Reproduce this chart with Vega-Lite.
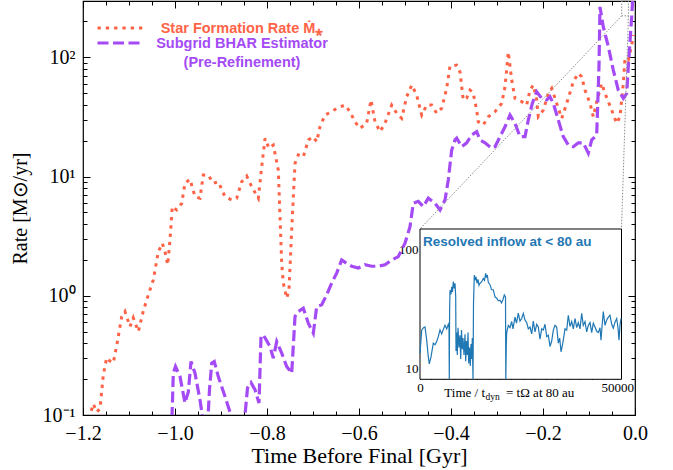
{
  "$schema": "https://vega.github.io/schema/vega-lite/v6.json",
  "width": 552,
  "height": 414,
  "autosize": "none",
  "padding": {"left": 83, "top": 1, "right": 38, "bottom": 55},
  "config": {
    "font": "Liberation Serif",
    "view": {"stroke": "#000", "strokeWidth": 1.2},
    "axis": {
      "grid": false, "domain": false, "ticks": true, "zindex": 1,
      "tickColor": "#000", "tickWidth": 1, "labelColor": "#000", "titleColor": "#000",
      "labelFont": "Liberation Serif", "titleFont": "Liberation Serif", "titleFontWeight": "normal",
      "labelFlush": false, "labelOverlap": false
    }
  },
  "datasets": {
    "main": [
      {"s": "sfr", "t": -1.1935, "v": 0.08}, {"s": "sfr", "t": -1.1848, "v": 0.1}, {"s": "sfr", "t": -1.1776, "v": 0.124},
      {"s": "sfr", "t": -1.1702, "v": 0.106}, {"s": "sfr", "t": -1.163, "v": 0.113}, {"s": "sfr", "t": -1.1559, "v": 0.217},
      {"s": "sfr", "t": -1.1485, "v": 0.302}, {"s": "sfr", "t": -1.1413, "v": 0.284}, {"s": "sfr", "t": -1.1341, "v": 0.274},
      {"s": "sfr", "t": -1.1261, "v": 0.395}, {"s": "sfr", "t": -1.1159, "v": 0.665}, {"s": "sfr", "t": -1.1087, "v": 0.738},
      {"s": "sfr", "t": -1.0978, "v": 0.552}, {"s": "sfr", "t": -1.0907, "v": 0.653}, {"s": "sfr", "t": -1.0798, "v": 0.501},
      {"s": "sfr", "t": -1.0689, "v": 0.746}, {"s": "sfr", "t": -1.058, "v": 1.02}, {"s": "sfr", "t": -1.0472, "v": 1.36},
      {"s": "sfr", "t": -1.0363, "v": 2.34}, {"s": "sfr", "t": -1.0276, "v": 2.76}, {"s": "sfr", "t": -1.0217, "v": 2.34},
      {"s": "sfr", "t": -1.0159, "v": 1.82}, {"s": "sfr", "t": -1.0109, "v": 2.94}, {"s": "sfr", "t": -1.0059, "v": 5.6},
      {"s": "sfr", "t": -0.9963, "v": 5.25}, {"s": "sfr", "t": -0.9854, "v": 5.97}, {"s": "sfr", "t": -0.9783, "v": 8.79},
      {"s": "sfr", "t": -0.9674, "v": 9.49}, {"s": "sfr", "t": -0.9565, "v": 6.79}, {"s": "sfr", "t": -0.9457, "v": 6.58},
      {"s": "sfr", "t": -0.9385, "v": 10.3}, {"s": "sfr", "t": -0.9276, "v": 10.3}, {"s": "sfr", "t": -0.9167, "v": 8.79},
      {"s": "sfr", "t": -0.9059, "v": 9.06}, {"s": "sfr", "t": -0.8913, "v": 6.79}, {"s": "sfr", "t": -0.8767, "v": 6.37},
      {"s": "sfr", "t": -0.8659, "v": 6.58}, {"s": "sfr", "t": -0.855, "v": 9.06}, {"s": "sfr", "t": -0.8441, "v": 10.1},
      {"s": "sfr", "t": -0.8333, "v": 8.22}, {"s": "sfr", "t": -0.8189, "v": 6.58}, {"s": "sfr", "t": -0.8115, "v": 12.1},
      {"s": "sfr", "t": -0.8043, "v": 20.9}, {"s": "sfr", "t": -0.7957, "v": 17.3}, {"s": "sfr", "t": -0.7863, "v": 18.4},
      {"s": "sfr", "t": -0.7754, "v": 11.3}, {"s": "sfr", "t": -0.7717, "v": 4.61}, {"s": "sfr", "t": -0.768, "v": 1.87},
      {"s": "sfr", "t": -0.7646, "v": 1.28}, {"s": "sfr", "t": -0.7572, "v": 0.955}, {"s": "sfr", "t": -0.7522, "v": 1.12},
      {"s": "sfr", "t": -0.7463, "v": 3.57}, {"s": "sfr", "t": -0.7391, "v": 12.9}, {"s": "sfr", "t": -0.732, "v": 15.2},
      {"s": "sfr", "t": -0.7211, "v": 14.6}, {"s": "sfr", "t": -0.7102, "v": 20.3}, {"s": "sfr", "t": -0.6993, "v": 21.6},
      {"s": "sfr", "t": -0.692, "v": 19.6}, {"s": "sfr", "t": -0.6848, "v": 26.2}, {"s": "sfr", "t": -0.6739, "v": 32.8},
      {"s": "sfr", "t": -0.6593, "v": 35}, {"s": "sfr", "t": -0.6485, "v": 37.4}, {"s": "sfr", "t": -0.6304, "v": 39.8},
      {"s": "sfr", "t": -0.6196, "v": 35}, {"s": "sfr", "t": -0.6087, "v": 28.8}, {"s": "sfr", "t": -0.5978, "v": 25.4},
      {"s": "sfr", "t": -0.5833, "v": 28}, {"s": "sfr", "t": -0.5739, "v": 43.9}, {"s": "sfr", "t": -0.5652, "v": 28.8},
      {"s": "sfr", "t": -0.5543, "v": 23.8}, {"s": "sfr", "t": -0.5435, "v": 28}, {"s": "sfr", "t": -0.5289, "v": 39.8},
      {"s": "sfr", "t": -0.518, "v": 34}, {"s": "sfr", "t": -0.5072, "v": 30.8}, {"s": "sfr", "t": -0.4963, "v": 46.8},
      {"s": "sfr", "t": -0.4854, "v": 58.6}, {"s": "sfr", "t": -0.4746, "v": 48.3}, {"s": "sfr", "t": -0.4637, "v": 32.8},
      {"s": "sfr", "t": -0.4528, "v": 39.8}, {"s": "sfr", "t": -0.442, "v": 39.8}, {"s": "sfr", "t": -0.4311, "v": 34},
      {"s": "sfr", "t": -0.4202, "v": 37.4}, {"s": "sfr", "t": -0.4094, "v": 55}, {"s": "sfr", "t": -0.4022, "v": 84.6},
      {"s": "sfr", "t": -0.3876, "v": 86.2}, {"s": "sfr", "t": -0.3804, "v": 75.4}, {"s": "sfr", "t": -0.3733, "v": 43.9},
      {"s": "sfr", "t": -0.3659, "v": 45.6}, {"s": "sfr", "t": -0.3587, "v": 53.2}, {"s": "sfr", "t": -0.3522, "v": 51},
      {"s": "sfr", "t": -0.3441, "v": 36.1}, {"s": "sfr", "t": -0.3407, "v": 28.8}, {"s": "sfr", "t": -0.3298, "v": 27.1},
      {"s": "sfr", "t": -0.3189, "v": 31.8}, {"s": "sfr", "t": -0.3043, "v": 35}, {"s": "sfr", "t": -0.2898, "v": 41.1},
      {"s": "sfr", "t": -0.2826, "v": 56.8}, {"s": "sfr", "t": -0.2754, "v": 111}, {"s": "sfr", "t": -0.268, "v": 64.5},
      {"s": "sfr", "t": -0.2609, "v": 45.3}, {"s": "sfr", "t": -0.2463, "v": 42.5}, {"s": "sfr", "t": -0.2354, "v": 39.8},
      {"s": "sfr", "t": -0.2283, "v": 53.2}, {"s": "sfr", "t": -0.2211, "v": 58.6}, {"s": "sfr", "t": -0.2137, "v": 43.9},
      {"s": "sfr", "t": -0.2102, "v": 31.8}, {"s": "sfr", "t": -0.1993, "v": 36.1}, {"s": "sfr", "t": -0.1885, "v": 49.9},
      {"s": "sfr", "t": -0.1811, "v": 55}, {"s": "sfr", "t": -0.1702, "v": 41.1}, {"s": "sfr", "t": -0.1593, "v": 30.8},
      {"s": "sfr", "t": -0.1485, "v": 41.1}, {"s": "sfr", "t": -0.1341, "v": 62.4}, {"s": "sfr", "t": -0.1233, "v": 73.5},
      {"s": "sfr", "t": -0.1159, "v": 68.8}, {"s": "sfr", "t": -0.1087, "v": 53.2}, {"s": "sfr", "t": -0.0978, "v": 41.1},
      {"s": "sfr", "t": -0.0907, "v": 31.8}, {"s": "sfr", "t": -0.0833, "v": 42.5}, {"s": "sfr", "t": -0.0724, "v": 60.5},
      {"s": "sfr", "t": -0.0652, "v": 49.9}, {"s": "sfr", "t": -0.0507, "v": 36.1}, {"s": "sfr", "t": -0.0398, "v": 28},
      {"s": "sfr", "t": -0.0326, "v": 31.8}, {"s": "sfr", "t": -0.0254, "v": 60.5}, {"s": "sfr", "t": -0.0217, "v": 98},
      {"s": "sfr", "t": -0.0146, "v": 95}, {"s": "sfr", "t": -0.0072, "v": 127}, {"s": "sfr", "t": -0.0033, "v": 154},
      {"s": "bhar", "t": -1.0076, "v": 0.07}, {"s": "bhar", "t": -1.0054, "v": 0.134}, {"s": "bhar", "t": -1.0037, "v": 0.224},
      {"s": "bhar", "t": -0.9989, "v": 0.255}, {"s": "bhar", "t": -0.9891, "v": 0.21}, {"s": "bhar", "t": -0.9783, "v": 0.126},
      {"s": "bhar", "t": -0.9711, "v": 0.156}, {"s": "bhar", "t": -0.9652, "v": 0.281}, {"s": "bhar", "t": -0.9565, "v": 0.224},
      {"s": "bhar", "t": -0.9457, "v": 0.134}, {"s": "bhar", "t": -0.937, "v": 0.08}, {"s": "bhar", "t": -0.9293, "v": 0.08},
      {"s": "bhar", "t": -0.925, "v": 0.163}, {"s": "bhar", "t": -0.9202, "v": 0.272}, {"s": "bhar", "t": -0.9146, "v": 0.281},
      {"s": "bhar", "t": -0.9059, "v": 0.21}, {"s": "bhar", "t": -0.8913, "v": 0.143}, {"s": "bhar", "t": -0.8783, "v": 0.1},
      {"s": "bhar", "t": -0.8674, "v": 0.07}, {"s": "bhar", "t": -0.8511, "v": 0.07}, {"s": "bhar", "t": -0.8478, "v": 0.1},
      {"s": "bhar", "t": -0.8424, "v": 0.169}, {"s": "bhar", "t": -0.8348, "v": 0.187}, {"s": "bhar", "t": -0.8261, "v": 0.163},
      {"s": "bhar", "t": -0.8174, "v": 0.126}, {"s": "bhar", "t": -0.813, "v": 0.455}, {"s": "bhar", "t": -0.808, "v": 0.47},
      {"s": "bhar", "t": -0.7935, "v": 0.375}, {"s": "bhar", "t": -0.7863, "v": 0.3}, {"s": "bhar", "t": -0.7789, "v": 0.413},
      {"s": "bhar", "t": -0.768, "v": 0.33}, {"s": "bhar", "t": -0.7572, "v": 0.255}, {"s": "bhar", "t": -0.7463, "v": 0.224},
      {"s": "bhar", "t": -0.7391, "v": 0.67}, {"s": "bhar", "t": -0.732, "v": 0.738}, {"s": "bhar", "t": -0.7211, "v": 0.787},
      {"s": "bhar", "t": -0.7102, "v": 0.589}, {"s": "bhar", "t": -0.6993, "v": 0.486}, {"s": "bhar", "t": -0.692, "v": 0.811},
      {"s": "bhar", "t": -0.6811, "v": 0.84}, {"s": "bhar", "t": -0.6702, "v": 1.02}, {"s": "bhar", "t": -0.6593, "v": 1.28},
      {"s": "bhar", "t": -0.6485, "v": 1.55}, {"s": "bhar", "t": -0.6376, "v": 2.0}, {"s": "bhar", "t": -0.6267, "v": 1.87},
      {"s": "bhar", "t": -0.6159, "v": 1.77}, {"s": "bhar", "t": -0.6015, "v": 1.71}, {"s": "bhar", "t": -0.587, "v": 1.82},
      {"s": "bhar", "t": -0.5724, "v": 1.77}, {"s": "bhar", "t": -0.558, "v": 1.77}, {"s": "bhar", "t": -0.5435, "v": 1.82},
      {"s": "bhar", "t": -0.5289, "v": 2.0}, {"s": "bhar", "t": -0.5146, "v": 2.13}, {"s": "bhar", "t": -0.5, "v": 2.76},
      {"s": "bhar", "t": -0.4891, "v": 3.8}, {"s": "bhar", "t": -0.482, "v": 5.97}, {"s": "bhar", "t": -0.4711, "v": 6.2},
      {"s": "bhar", "t": -0.4602, "v": 5.6}, {"s": "bhar", "t": -0.4493, "v": 6.6}, {"s": "bhar", "t": -0.4348, "v": 5.97},
      {"s": "bhar", "t": -0.4239, "v": 5.25}, {"s": "bhar", "t": -0.413, "v": 6.37}, {"s": "bhar", "t": -0.4059, "v": 9.38},
      {"s": "bhar", "t": -0.3985, "v": 16.7}, {"s": "bhar", "t": -0.3913, "v": 20.3}, {"s": "bhar", "t": -0.3876, "v": 21},
      {"s": "bhar", "t": -0.3767, "v": 17.8}, {"s": "bhar", "t": -0.3659, "v": 19.2}, {"s": "bhar", "t": -0.355, "v": 22.3},
      {"s": "bhar", "t": -0.3441, "v": 23.8}, {"s": "bhar", "t": -0.337, "v": 20.3}, {"s": "bhar", "t": -0.3261, "v": 19.2},
      {"s": "bhar", "t": -0.3115, "v": 17.3}, {"s": "bhar", "t": -0.3043, "v": 17.8}, {"s": "bhar", "t": -0.2935, "v": 21.6},
      {"s": "bhar", "t": -0.2826, "v": 26.2}, {"s": "bhar", "t": -0.2717, "v": 32.8}, {"s": "bhar", "t": -0.2609, "v": 28},
      {"s": "bhar", "t": -0.25, "v": 21.6}, {"s": "bhar", "t": -0.2391, "v": 21.6}, {"s": "bhar", "t": -0.232, "v": 29.8},
      {"s": "bhar", "t": -0.2233, "v": 41.1}, {"s": "bhar", "t": -0.2137, "v": 51.5}, {"s": "bhar", "t": -0.2028, "v": 45.3},
      {"s": "bhar", "t": -0.192, "v": 43.9}, {"s": "bhar", "t": -0.1848, "v": 46.8}, {"s": "bhar", "t": -0.1776, "v": 41.1},
      {"s": "bhar", "t": -0.1667, "v": 29.8}, {"s": "bhar", "t": -0.1559, "v": 21.6}, {"s": "bhar", "t": -0.145, "v": 18.4},
      {"s": "bhar", "t": -0.1341, "v": 17.8}, {"s": "bhar", "t": -0.1233, "v": 19.2}, {"s": "bhar", "t": -0.1124, "v": 19.2},
      {"s": "bhar", "t": -0.1015, "v": 15.7}, {"s": "bhar", "t": -0.0941, "v": 20.3}, {"s": "bhar", "t": -0.0833, "v": 22.3},
      {"s": "bhar", "t": -0.0783, "v": 83.4}, {"s": "bhar", "t": -0.0761, "v": 265}, {"s": "bhar", "t": -0.0689, "v": 180},
      {"s": "bhar", "t": -0.058, "v": 123}, {"s": "bhar", "t": -0.0472, "v": 78.3}, {"s": "bhar", "t": -0.0363, "v": 53.2},
      {"s": "bhar", "t": -0.0254, "v": 45.3}, {"s": "bhar", "t": -0.018, "v": 49.9}, {"s": "bhar", "t": -0.0146, "v": 83.4},
      {"s": "bhar", "t": -0.0072, "v": 219}, {"s": "bhar", "t": -0.0033, "v": 400}
    ],
    "zoomlines": [
      {"t": -0.0289, "v": 223, "t2": -0.4674, "v2": 3.64},
      {"t": -0.0143, "v": 223, "t2": -0.0294, "v2": 3.64}
    ],
    "zoombox": [
      {"t": -0.0289, "t2": -0.0143, "v": 223, "v2": 297}
    ],
    "inflow": [
      {"time": 0, "rate": 13.4}, {"time": 431, "rate": 21}, {"time": 888, "rate": 22}, {"time": 1268, "rate": 22.3},
      {"time": 1699, "rate": 17.3}, {"time": 2105, "rate": 12.5}, {"time": 2358, "rate": 10.9}, {"time": 2790, "rate": 12.5},
      {"time": 3373, "rate": 16.3}, {"time": 3804, "rate": 15.8}, {"time": 4235, "rate": 16.8}, {"time": 4641, "rate": 18.5},
      {"time": 5072, "rate": 21.1}, {"time": 5503, "rate": 19.5}, {"time": 5833, "rate": 21}, {"time": 6340, "rate": 23.1},
      {"time": 6771, "rate": 21.5}, {"time": 7177, "rate": 23.5}, {"time": 7354, "rate": 22}, {"time": 7430, "rate": 8.1},
      {"time": 7507, "rate": 30}, {"time": 7608, "rate": 45.5}, {"time": 7862, "rate": 42}, {"time": 8039, "rate": 48.6},
      {"time": 8242, "rate": 44}, {"time": 8445, "rate": 53.6}, {"time": 8698, "rate": 47}, {"time": 8876, "rate": 52},
      {"time": 9054, "rate": 40}, {"time": 9130, "rate": 14}, {"time": 9307, "rate": 20}, {"time": 9459, "rate": 13},
      {"time": 9637, "rate": 22}, {"time": 9890, "rate": 15}, {"time": 10144, "rate": 19}, {"time": 10322, "rate": 12},
      {"time": 10524, "rate": 21}, {"time": 10727, "rate": 14.5}, {"time": 10905, "rate": 18}, {"time": 11158, "rate": 13},
      {"time": 11412, "rate": 19.4}, {"time": 11590, "rate": 11.5}, {"time": 11792, "rate": 17}, {"time": 11995, "rate": 13},
      {"time": 12173, "rate": 20}, {"time": 12350, "rate": 11}, {"time": 12553, "rate": 15}, {"time": 12756, "rate": 10.5},
      {"time": 12934, "rate": 16}, {"time": 13111, "rate": 12}, {"time": 13263, "rate": 18}, {"time": 13441, "rate": 8.1},
      {"time": 13568, "rate": 35}, {"time": 13771, "rate": 61}, {"time": 13948, "rate": 55}, {"time": 14202, "rate": 59},
      {"time": 14455, "rate": 52}, {"time": 14709, "rate": 56}, {"time": 14962, "rate": 50}, {"time": 15216, "rate": 52},
      {"time": 15647, "rate": 53.6}, {"time": 16053, "rate": 57}, {"time": 16357, "rate": 55}, {"time": 16662, "rate": 63},
      {"time": 16864, "rate": 58}, {"time": 17067, "rate": 61}, {"time": 17321, "rate": 53}, {"time": 17752, "rate": 50.6},
      {"time": 18132, "rate": 46}, {"time": 18589, "rate": 45.7}, {"time": 19020, "rate": 40}, {"time": 19451, "rate": 38.9},
      {"time": 19857, "rate": 37}, {"time": 20288, "rate": 37.5}, {"time": 20668, "rate": 35.5}, {"time": 21049, "rate": 38},
      {"time": 21378, "rate": 41.5}, {"time": 21683, "rate": 40}, {"time": 21759, "rate": 8.1}, {"time": 21886, "rate": 16},
      {"time": 21987, "rate": 20}, {"time": 22393, "rate": 23}, {"time": 22824, "rate": 22}, {"time": 23255, "rate": 24.8},
      {"time": 23585, "rate": 21.5}, {"time": 24092, "rate": 27}, {"time": 24472, "rate": 24}, {"time": 24929, "rate": 29.2},
      {"time": 25360, "rate": 25}, {"time": 25791, "rate": 26.3}, {"time": 26197, "rate": 29}, {"time": 26628, "rate": 25.5},
      {"time": 27059, "rate": 24.3}, {"time": 27465, "rate": 21.5}, {"time": 27896, "rate": 22.3}, {"time": 28327, "rate": 19.5},
      {"time": 28733, "rate": 25}, {"time": 29164, "rate": 20.3}, {"time": 29595, "rate": 23.5}, {"time": 30001, "rate": 22.3},
      {"time": 30432, "rate": 17.6}, {"time": 30863, "rate": 21.5}, {"time": 31269, "rate": 21}, {"time": 31700, "rate": 23.5},
      {"time": 32131, "rate": 18.5}, {"time": 32537, "rate": 19}, {"time": 32968, "rate": 15.3}, {"time": 33399, "rate": 17},
      {"time": 33805, "rate": 21}, {"time": 34236, "rate": 23}, {"time": 34667, "rate": 22.3}, {"time": 35073, "rate": 16.3},
      {"time": 35428, "rate": 18}, {"time": 35758, "rate": 13.8}, {"time": 36087, "rate": 15.5}, {"time": 36341, "rate": 17.3},
      {"time": 36772, "rate": 21.5}, {"time": 37203, "rate": 21}, {"time": 37609, "rate": 28}, {"time": 38040, "rate": 22.5},
      {"time": 38471, "rate": 24.8}, {"time": 38877, "rate": 21.5}, {"time": 39308, "rate": 26.3}, {"time": 39739, "rate": 22},
      {"time": 40145, "rate": 24.3}, {"time": 40576, "rate": 21.5}, {"time": 41007, "rate": 29}, {"time": 41413, "rate": 23},
      {"time": 41844, "rate": 24.8}, {"time": 42275, "rate": 20.3}, {"time": 42681, "rate": 23}, {"time": 43112, "rate": 24.3},
      {"time": 43543, "rate": 20}, {"time": 43949, "rate": 24}, {"time": 44380, "rate": 22.3}, {"time": 44811, "rate": 20.5},
      {"time": 45217, "rate": 20}, {"time": 45648, "rate": 22}, {"time": 45902, "rate": 17.3}, {"time": 46231, "rate": 24},
      {"time": 46485, "rate": 30}, {"time": 46916, "rate": 23}, {"time": 47347, "rate": 25.5}, {"time": 47753, "rate": 27},
      {"time": 48184, "rate": 28}, {"time": 48615, "rate": 23.5}, {"time": 49021, "rate": 21.8}, {"time": 49452, "rate": 24.5},
      {"time": 49883, "rate": 26.3}, {"time": 50213, "rate": 22}, {"time": 50466, "rate": 17.3}, {"time": 50720, "rate": 23},
      {"time": 50974, "rate": 26.3}
    ]
  },
  "layer": [
    {
      "layer": [
        {
          "data": {"name": "main"},
          "transform": [{"filter": "datum.s == 'sfr'"}],
          "mark": {"type": "line", "clip": true, "strokeWidth": 3, "strokeCap": "butt"},
          "encoding": {
            "x": {
              "field": "t", "type": "quantitative",
              "scale": {"type": "linear", "domain": [-1.2, 0], "nice": false, "zero": false},
              "axis": {
                "orient": "bottom", "offset": -7, "values": [-1.2, -1.0, -0.8, -0.6, -0.4, -0.2, 0],
                "tickSize": 7, "labelPadding": 8, "labelFontSize": 20,
                "labelExpr": "replace(format(datum.value, '.1f'), '-', '−')",
                "title": "Time Before Final [Gyr]", "titleFontSize": 22, "titlePadding": 2
              }
            },
            "y": {
              "field": "v", "type": "quantitative",
              "scale": {"type": "log", "domain": [0.1, 297], "nice": false},
              "axis": {
                "orient": "left", "offset": -7, "values": [0.1, 1, 10, 100],
                "tickSize": 7, "labelPadding": 8, "labelFontSize": 20,
                "labelExpr": "datum.value >= 50 ? '10²' : datum.value >= 5 ? '10¹' : datum.value >= 0.5 ? '10⁰' : '10⁻¹'",
                "title": "Rate [M⊙/yr]", "titleFontSize": 20, "titlePadding": 12
              }
            },
            "color": {
              "field": "s", "type": "nominal",
              "scale": {"domain": ["sfr", "bhar"], "range": ["#FF6347", "#A44BF6"]},
              "legend": {
                "orient": "none", "legendX": 13, "legendY": 18, "padding": 0, "title": null,
                "symbolType": "stroke", "symbolSize": 2025, "symbolStrokeWidth": 3,
                "labelFont": "Liberation Sans", "labelFontSize": 14.5, "labelFontWeight": "bold",
                "labelAlign": "center", "labelBaseline": "alphabetic", "labelOffset": 98, "labelLimit": 400,
                "rowPadding": 0,
                "labelExpr": "datum.label == 'sfr' ? 'Star Formation Rate Ṁ⁎' : ['Subgrid BHAR Estimator', '(Pre-Refinement)']",
                "encode": {
                  "symbols": {"update": {"y": {"signal": "datum.index == 0 ? 9 : 6"}}},
                  "labels": {"update": {"fill": {"scale": "color", "field": "value"}, "y": {"signal": "datum.index == 0 ? 9 : 6"}, "dy": {"value": 5}, "lineHeight": {"value": 19}}}
                }
              }
            },
            "strokeDash": {
              "field": "s", "type": "nominal",
              "scale": {"domain": ["sfr", "bhar"], "range": [[3.3, 5], [11, 4.5]]}
            }
          }
        },
        {
          "data": {"name": "main"},
          "transform": [{"filter": "datum.s == 'bhar'"}],
          "mark": {"type": "line", "clip": true, "strokeWidth": 3.2, "strokeCap": "butt"},
          "encoding": {
            "x": {
              "field": "t", "type": "quantitative",
              "scale": {"type": "linear", "domain": [-1.2, 0], "nice": false, "zero": false},
              "axis": {
                "orient": "bottom", "offset": -4,
                "values": [-1.15, -1.1, -1.05, -0.95, -0.9, -0.85, -0.75, -0.7, -0.65, -0.55, -0.5, -0.45, -0.35, -0.3, -0.25, -0.15, -0.1, -0.05],
                "tickSize": 4, "labels": false, "title": null
              }
            },
            "y": {
              "field": "v", "type": "quantitative",
              "scale": {"type": "log", "domain": [0.1, 297], "nice": false},
              "axis": {
                "orient": "left", "offset": -4,
                "values": [0.2, 0.3, 0.4, 0.5, 0.6, 0.7, 0.8, 0.9, 2, 3, 4, 5, 6, 7, 8, 9, 20, 30, 40, 50, 60, 70, 80, 90, 200],
                "tickSize": 4, "labels": false, "title": null
              }
            },
            "color": {
              "field": "s", "type": "nominal",
              "scale": {"domain": ["sfr", "bhar"], "range": ["#FF6347", "#A44BF6"]}
            },
            "strokeDash": {
              "field": "s", "type": "nominal",
              "scale": {"domain": ["sfr", "bhar"], "range": [[3.3, 5], [11, 4.5]]}
            }
          }
        },
        {
          "data": {"name": "zoomlines"},
          "mark": {"type": "rule", "stroke": "#8c8c8c", "strokeWidth": 1, "strokeDash": [1.5, 1.5]},
          "encoding": {
            "x": {
              "field": "t", "type": "quantitative",
              "scale": {"type": "linear", "domain": [-1.2, 0], "nice": false, "zero": false},
              "axis": {"orient": "top", "offset": -7, "values": [-1.2, -1.0, -0.8, -0.6, -0.4, -0.2, 0], "tickSize": 7, "labels": false, "title": null}
            },
            "x2": {"field": "t2"},
            "y": {
              "field": "v", "type": "quantitative",
              "scale": {"type": "log", "domain": [0.1, 297], "nice": false},
              "axis": {"orient": "right", "offset": -7, "values": [0.1, 1, 10, 100], "tickSize": 7, "labels": false, "title": null}
            },
            "y2": {"field": "v2"}
          }
        },
        {
          "data": {"name": "zoombox"},
          "mark": {"type": "rect", "fillOpacity": 0, "stroke": "#8c8c8c", "strokeWidth": 1, "strokeDash": [1.5, 1.5]},
          "encoding": {
            "x": {
              "field": "t", "type": "quantitative",
              "scale": {"type": "linear", "domain": [-1.2, 0], "nice": false, "zero": false},
              "axis": {
                "orient": "top", "offset": -4,
                "values": [-1.15, -1.1, -1.05, -0.95, -0.9, -0.85, -0.75, -0.7, -0.65, -0.55, -0.5, -0.45, -0.35, -0.3, -0.25, -0.15, -0.1, -0.05],
                "tickSize": 4, "labels": false, "title": null
              }
            },
            "x2": {"field": "t2"},
            "y": {
              "field": "v", "type": "quantitative",
              "scale": {"type": "log", "domain": [0.1, 297], "nice": false},
              "axis": {
                "orient": "right", "offset": -4,
                "values": [0.2, 0.3, 0.4, 0.5, 0.6, 0.7, 0.8, 0.9, 2, 3, 4, 5, 6, 7, 8, 9, 20, 30, 40, 50, 60, 70, 80, 90, 200],
                "tickSize": 4, "labels": false, "title": null
              }
            },
            "y2": {"field": "v2"}
          }
        }
      ],
      "resolve": {"axis": {"x": "independent", "y": "independent"}}
    },
    {
      "layer": [
        {
          "data": {"values": [{}]},
          "mark": {"type": "rect", "fill": "white", "stroke": "black", "strokeWidth": 1},
          "encoding": {
            "x": {
              "datum": 0, "type": "quantitative",
              "scale": {"type": "linear", "domain": [0, 51100], "range": [337, 538.5], "nice": false, "zero": false},
              "axis": {"orient": "bottom", "offset": -41.7, "values": [0, 50000], "format": "d", "tickSize": 6, "labelPadding": 2, "labelFontSize": 13, "title": null}
            },
            "x2": {"datum": 51100},
            "y": {
              "datum": 8.1, "type": "quantitative",
              "scale": {"type": "log", "domain": [8.1, 148.7], "range": [378.3, 228], "nice": false},
              "axis": {"orient": "left", "offset": -343, "values": [10, 100], "format": "d", "tickSize": 6, "labelPadding": 2, "labelFontSize": 13, "title": null}
            },
            "y2": {"datum": 148.7}
          }
        },
        {
          "data": {"name": "inflow"},
          "mark": {"type": "line", "color": "#1f77b4", "strokeWidth": 1.2},
          "encoding": {
            "x": {
              "field": "time", "type": "quantitative",
              "scale": {"type": "linear", "domain": [0, 51100], "range": [337, 538.5], "nice": false, "zero": false},
              "axis": {
                "orient": "bottom", "offset": -39.2,
                "values": [2900, 5800, 8700, 11600, 14500, 17400, 20300, 23200, 26100, 29000, 31900, 34800, 37700, 40600, 43500, 46400, 49300],
                "tickSize": 3.5, "labels": false, "title": null
              }
            },
            "y": {
              "field": "rate", "type": "quantitative",
              "scale": {"type": "log", "domain": [8.1, 148.7], "range": [378.3, 228], "nice": false},
              "axis": {"orient": "left", "offset": -340.5, "values": [9, 20, 30, 40, 50, 60, 70, 80, 90], "tickSize": 3.5, "labels": false, "title": null}
            }
          }
        },
        {
          "data": {"values": [{}]},
          "mark": {"type": "text", "text": "Resolved inflow at < 80 au", "font": "Liberation Sans", "fontWeight": "bold", "fontSize": 13.5, "color": "#1f77b4", "align": "left", "baseline": "middle", "dx": 3, "dy": 13},
          "encoding": {
            "x": {
              "datum": 0, "type": "quantitative",
              "scale": {"type": "linear", "domain": [0, 51100], "range": [337, 538.5], "nice": false, "zero": false},
              "axis": null
            },
            "y": {
              "datum": 148.7, "type": "quantitative",
              "scale": {"type": "log", "domain": [8.1, 148.7], "range": [378.3, 228], "nice": false},
              "axis": {"orient": "right", "offset": -19.5, "values": [10, 100], "tickSize": 6, "labels": false, "title": null}
            }
          }
        },
        {
          "data": {"values": [{}]},
          "mark": {"type": "text", "text": "Time / t", "font": "Liberation Serif", "fontSize": 13, "color": "#000", "align": "right", "baseline": "middle"},
          "encoding": {
            "x": {
              "datum": 16484, "type": "quantitative",
              "scale": {"type": "linear", "domain": [0, 51100], "range": [337, 538.5], "nice": false, "zero": false},
              "axis": null
            },
            "y": {
              "datum": 6.21, "type": "quantitative",
              "scale": {"type": "log", "domain": [8.1, 148.7], "range": [378.3, 228], "nice": false},
              "axis": {"orient": "right", "offset": -17, "values": [9, 20, 30, 40, 50, 60, 70, 80, 90], "tickSize": 3.5, "labels": false, "title": null}
            }
          }
        },
        {
          "data": {"values": [{}]},
          "mark": {"type": "text", "text": "dyn", "font": "Liberation Serif", "fontSize": 9.5, "color": "#000", "align": "left", "baseline": "middle", "dx": 0.5, "dy": 3.5},
          "encoding": {
            "x": {
              "datum": 16484, "type": "quantitative",
              "scale": {"type": "linear", "domain": [0, 51100], "range": [337, 538.5], "nice": false, "zero": false},
              "axis": null
            },
            "y": {
              "datum": 6.21, "type": "quantitative",
              "scale": {"type": "log", "domain": [8.1, 148.7], "range": [378.3, 228], "nice": false},
              "axis": null
            }
          }
        },
        {
          "data": {"values": [{}]},
          "mark": {"type": "text", "text": "=  tΩ  at 80 au", "font": "Liberation Serif", "fontSize": 13, "color": "#000", "align": "left", "baseline": "middle"},
          "encoding": {
            "x": {
              "datum": 21810, "type": "quantitative",
              "scale": {"type": "linear", "domain": [0, 51100], "range": [337, 538.5], "nice": false, "zero": false},
              "axis": null
            },
            "y": {
              "datum": 6.21, "type": "quantitative",
              "scale": {"type": "log", "domain": [8.1, 148.7], "range": [378.3, 228], "nice": false},
              "axis": null
            }
          }
        }
      ],
      "resolve": {"axis": {"x": "independent", "y": "independent"}}
    }
  ],
  "resolve": {"scale": {"x": "independent", "y": "independent"}}
}
